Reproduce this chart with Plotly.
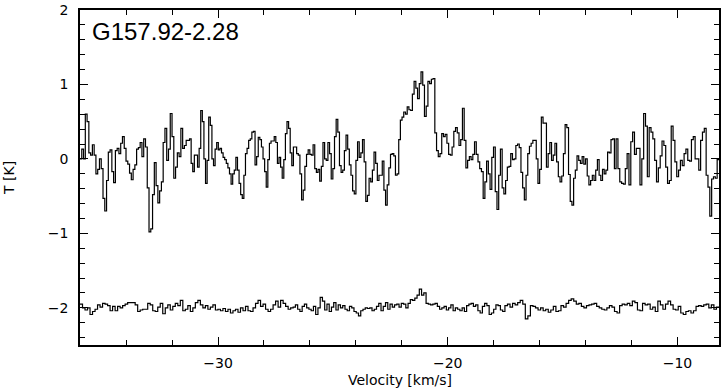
import numpy as np
import plotly.graph_objects as go

top_seg1 = [0.0, 0.13, 0.0, 0.6, 0.5, 0.08, 0.05, 0.19, 0.05, -0.2, -0.14, 0.0, -0.13, -0.53, -0.7,
            -0.29, 0.09, 0.12, -0.17, -0.32, 0.11, 0.14, 0.07, 0.21, 0.3, 0.14, -0.03, -0.07, -0.19,
            -0.28, -0.14, -0.08, 0.13, 0.15, 0.22, 0.03, 0.27, 0.16, -0.39, -0.98, -0.94, -0.48,
            -0.05, -0.36, -0.59, -0.43, -0.31, 0.22, 0.41, -0.02, 0.13, 0.61, 0.3, -0.26, -0.11,
            0.08, 0.03, 0.41, 0.14, 0.18, 0.25]
top_seg2 = [0.25, 0.27, -0.06, -0.17, 0.05, 0.05, -0.11, 0.14, 0.65, 0.5, 0.0, -0.33, -0.02, 0.56,
            0.45, 0.0, -0.09, 0.13, 0.22, 0.12, 0.14, 0.08, 0.02, -0.01, -0.06, -0.12, -0.2, -0.34,
            -0.2, -0.15, 0.02, -0.15, -0.33, -0.48, -0.53, -0.22, 0.07, 0.14, 0.25, 0.27, 0.36,
            0.37, -0.08, 0.03, 0.29, 0.26, 0.16, 0.0, -0.17, -0.38, -0.01, 0.21, 0.24, 0.24, 0.3,
            0.22, -0.06, 0.02, -0.11, -0.26, -0.01, 0.34, 0.5, 0.41, 0.08, -0.09, 0.16]
top_seg3 = [0.16, 0.07, 0.05, -0.2, -0.55, -0.42, -0.1, 0.06, 0.12, 0.06, 0.05, 0.19, -0.13, -0.18,
            -0.14, -0.3, -0.1, 0.22, 0.0, -0.02, 0.22, 0.07, -0.27, -0.13, 0.3, 0.53, 0.36, -0.09,
            -0.18, -0.15, 0.11, 0.32, 0.13, -0.08, -0.22, -0.43, -0.47, -0.02, 0.23, 0.02, 0.08,
            0.26, -0.04, -0.57, -0.49, -0.26, -0.31, -0.15, 0.09, -0.06, -0.29, -0.22, -0.22,
            -0.03, -0.42, -0.62, -0.35, -0.12, 0.06, 0.07, 0.04, -0.22, -0.2, 0.26, 0.52]
top_seg4 = [0.56, 0.63, 0.6, 0.7, 0.66, 0.65, 0.87, 1.04, 0.95, 0.81, 1.01, 1.17, 0.99, 0.57, 0.71,
            1.04, 1.01, 1.07, 1.08, 0.35, 0.11, 0.03, 0.07, 0.34, 0.3, 0.33, 0.21, 0.06, 0.05,
            0.16, 0.37, 0.42, 0.35, 0.18, 0.26, 0.68, 0.25, -0.12, -0.02, 0.03, -0.01, 0.06, 0.23,
            0.06, -0.04, -0.13, -0.17, -0.53, -0.31, -0.03, -0.2, -0.41, 0.02, 0.16, -0.44, -0.68,
            -0.22, 0.13, -0.39, -0.47, -0.29, -0.11]
top_seg5 = [-0.1, 0.07, -0.01, 0.0, 0.18, 0.2, 0.15, -0.18, -0.39, -0.55, -0.22, 0.07, 0.17, 0.21,
            0.25, 0.25, 0.0, -0.33, -0.14, 0.56, 0.48, 0.48, -0.11, 0.07, 0.22, -0.02, 0.05, 0.21,
            -0.04, -0.24, -0.31, -0.23, 0.07, 0.46, 0.42, -0.21, -0.57, -0.62, -0.26, -0.15, 0.04,
            -0.02, -0.06, 0.03, -0.07, 0.0, -0.23, -0.35, -0.29, -0.22, -0.29, -0.15, -0.01, -0.22,
            -0.29, -0.14, -0.2, -0.15, 0.09, 0.08, 0.26, 0.27, -0.13]
top_seg6 = [0.27, -0.13, -0.31, -0.33, -0.34, -0.13, 0.07, -0.35, 0.23, 0.36, 0.06, 0.14, 0.14,
            -0.35, 0.0, 0.61, 0.44, -0.24, 0.42, 0.36, 0.27, -0.02, -0.31, -0.12, 0.04, 0.24, 0.18,
            -0.11, -0.33, -0.29, 0.44, 0.25, -0.04, -0.24, -0.15, -0.02, -0.09, 0.07, 0.13, -0.02,
            -0.03, 0.26, 0.3, 0.0, 0.0, -0.15, 0.25, 0.36, 0.41, -0.22, -0.38, -0.77, -0.27, -0.24,
            -0.26, -0.01]

# lower spectrum (offset by -2 K), three pieces
bot_seg1 = [-1.95, -2.0, -2.03, -2.0, -2.09, -2.05, -2.02, -1.96, -1.99, -1.94, -1.95, -1.97, -2.04,
            -1.98, -2.04, -1.98, -2.0, -1.97, -1.95, -1.93, -1.93, -1.93, -1.96, -2.05, -2.03,
            -2.02, -2.02, -1.94, -1.96, -2.04, -2.05, -1.99, -1.94, -2.08, -2.0, -1.96, -2.03,
            -1.98, -1.94, -1.97, -1.9, -2.04, -2.02, -1.97, -2.05, -2.0, -1.93, -1.9, -1.96, -2.0,
            -1.97, -2.02, -1.99, -1.96, -2.03, -2.02, -2.04, -2.01, -2.05, -2.02, -2.07, -2.04,
            -2.02, -2.06, -2.0, -2.04, -1.98, -2.04, -2.05, -2.0, -1.94, -1.9, -1.98, -1.95, -2.02,
            -2.05, -2.02, -1.96, -1.91, -1.99, -1.9, -1.94, -1.98, -2.02, -2.0]
bot_seg2 = [-1.99, -1.96, -2.02, -2.05, -1.98, -1.95, -2.0, -2.02, -2.04, -1.98, -2.09, -2.0, -1.86,
            -1.91, -2.03, -1.95, -2.05, -1.99, -1.93, -2.03, -1.96, -2.0, -1.97, -2.02, -2.04,
            -1.98, -2.0, -2.05, -2.07, -2.11, -2.04, -2.02, -2.0, -2.01, -2.0, -2.04, -2.02, -1.98,
            -1.94, -2.04, -1.98, -1.93, -2.02, -1.95, -1.99, -1.96, -1.95, -1.99, -1.94, -1.95,
            -2.0, -1.94, -1.89, -1.9, -1.87, -1.83, -1.75, -1.83, -1.8, -1.94, -1.95, -1.96, -1.95,
            -1.94, -1.98, -2.02, -2.0, -1.98, -2.03, -2.0, -1.96, -2.04, -2.0, -2.02, -2.04, -2.0,
            -2.05, -1.97, -1.95, -1.94, -1.98, -1.96, -2.04, -2.07, -1.98, -1.94, -1.97, -2.09,
            -2.07, -2.02, -1.96, -1.97, -2.03, -2.05]
bot_seg3 = [-1.97, -1.95, -1.99, -1.94, -1.96, -1.93, -1.9, -1.95, -2.15, -2.11, -1.97, -1.98, -2.0,
            -2.03, -2.0, -2.04, -2.02, -2.06, -2.03, -1.98, -2.05, -2.04, -1.97, -1.99, -1.94,
            -1.9, -1.88, -1.91, -1.95, -1.94, -1.98, -2.0, -1.97, -1.96, -1.95, -1.94, -1.98, -2.0,
            -2.02, -2.03, -2.0, -1.97, -1.99, -2.05, -2.07, -1.97, -1.95, -1.96, -1.94, -1.97,
            -1.91, -1.93, -2.03, -2.04, -1.94, -1.96, -1.95, -2.02, -1.99, -2.05, -1.91, -1.96,
            -2.02, -1.95, -1.91, -1.96, -2.02, -2.03, -1.98, -2.07, -2.09, -2.05, -2.04, -2.07,
            -2.04, -1.98, -1.97, -1.98, -1.96, -1.95, -2.0, -1.96, -2.02, -1.99]

# velocity limits of each piece (km/s)
top_edges = [-36.01, -31.31, -26.65, -21.99, -17.33, -12.67, -8.19]
bot_edges = [-36.01, -26.73, -17.51, -8.19]


def stepped(segs, edges):
    xs, ys = [], []
    for seg, lo, hi in zip(segs, edges[:-1], edges[1:]):
        xs.extend(np.linspace(lo, hi, len(seg), endpoint=False))
        ys.extend(seg)
    xs.append(edges[-1])
    ys.append(ys[-1])
    return xs, ys


tx, ty = stepped([top_seg1, top_seg2, top_seg3, top_seg4, top_seg5, top_seg6], top_edges)
bx, by = stepped([bot_seg1, bot_seg2, bot_seg3], bot_edges)

fig = go.Figure()
for x, y in [(tx, ty), (bx, by)]:
    fig.add_trace(go.Scatter(x=x, y=y, mode='lines', line_shape='hv',
                             line=dict(color='black', width=1.2), showlegend=False,
                             hoverinfo='skip'))

axis_style = dict(
    showgrid=False, zeroline=False, automargin=False,
    showline=True, linecolor='black', linewidth=1.5, mirror='ticks',
    ticks='inside', ticklen=8, tickwidth=1, tickcolor='black',
    tickfont=dict(family='DejaVu Sans', size=14, color='black'),
)

fig.update_xaxes(range=[-36.01, -8.19], dtick=10, tick0=0, ticklabelstandoff=4,
                 minor=dict(dtick=2, ticks='inside', ticklen=5, tickcolor='black'),
                 **axis_style)
fig.update_yaxes(range=[-2.5, 2.0], dtick=1, tick0=0, ticklabelstandoff=7,
                 minor=dict(dtick=0.2, ticks='inside', ticklen=5, tickcolor='black'),
                 **axis_style)

label_font = dict(family='DejaVu Sans', size=14, color='black')
fig.add_annotation(text='Velocity [km/s]', xref='paper', yref='paper', x=0.5, y=-0.104,
                   xanchor='center', yanchor='middle', showarrow=False, font=label_font)
fig.add_annotation(text='T [K]', xref='paper', yref='paper', x=-0.112, y=0.5, textangle=-90,
                   xanchor='center', yanchor='middle', showarrow=False, font=label_font)
fig.add_annotation(text='G157.92-2.28', xref='paper', yref='paper', x=0.016, y=0.937,
                   xanchor='left', yanchor='middle', showarrow=False,
                   font=dict(family='Liberation Sans', size=24, color='black'))

fig.update_layout(
    width=724, height=389,
    plot_bgcolor='white', paper_bgcolor='white',
    dragmode=False,
    margin=dict(l=80, r=5, t=10, b=44),
)

# the page body has an 8px default margin; drop it so the plot sits at the window corner
fig.write_html("out.html", config={'displayModeBar': False},
               post_script="document.body.style.margin='0';")
